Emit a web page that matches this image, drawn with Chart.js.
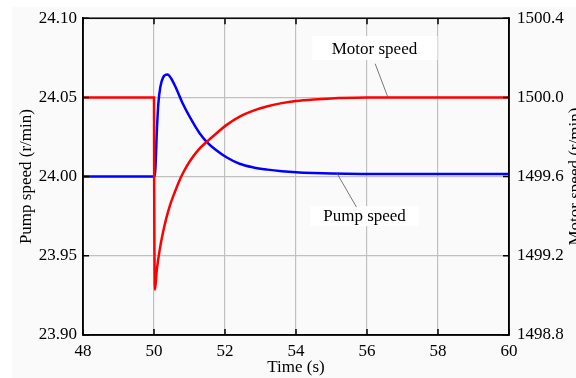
<!DOCTYPE html>
<html>
<head>
<meta charset="utf-8">
<script src="https://cdn.jsdelivr.net/npm/chart.js@4.4.0/dist/chart.umd.min.js"></script>
<style>
  html, body { margin: 0; padding: 0; background: #fff; }
  #wrap { width: 576px; height: 378px; }
</style>
</head>
<body>
<div id="wrap"><canvas id="c" width="576" height="378"></canvas></div>
<script>
// --- data ---
const xTicks = [48, 50, 52, 54, 56, 58, 60];
const pumpTicks = [23.90, 23.95, 24.00, 24.05, 24.10];
const motorTicks = [1498.8, 1499.2, 1499.6, 1500.0, 1500.4];

// motor speed (right axis, r/min)
const motorTime  = [48, 50, 50.005, 50.028, 50.08, 50.16, 50.25, 50.347, 50.45, 50.582, 50.7, 50.817, 51.0, 51.25, 51.493, 51.756, 52.038, 52.413, 52.8, 53.2, 53.6, 54.0, 54.5, 55.0, 56.0, 57.0, 60];
const motorSpeed = [1500.0, 1500.0, 1499.55, 1499.03, 1499.13, 1499.23, 1499.315, 1499.39, 1499.455, 1499.52, 1499.573, 1499.618, 1499.675, 1499.735, 1499.777, 1499.818, 1499.86, 1499.903, 1499.933, 1499.955, 1499.971, 1499.982, 1499.99, 1499.995, 1499.999, 1500.0, 1500.0];

// pump speed (left axis, r/min)
const pumpTime  = [48, 50.02, 50.085, 50.122, 50.178, 50.254, 50.376, 50.488, 50.629, 50.817, 51.1, 51.29, 51.49, 51.756, 52.04, 52.41, 52.8, 53.2, 53.6, 54.0, 54.5, 55.0, 56.0, 58.0, 60];
const pumpSpeed = [24.0, 24.0, 24.031, 24.046, 24.0565, 24.0625, 24.0644, 24.0618, 24.0555, 24.0458, 24.034, 24.0272, 24.0218, 24.0166, 24.0122, 24.0081, 24.0058, 24.0044, 24.0034, 24.0027, 24.0022, 24.0019, 24.0017, 24.0016, 24.0016];

const FONT = '"Liberation Serif", "Times New Roman", serif';

const frame = {
  id: 'frame',
  beforeDraw(chart) {
    const ctx = chart.ctx;
    ctx.save();
    ctx.fillStyle = '#ffffff';
    ctx.fillRect(0, 0, chart.width, chart.height);
    ctx.fillStyle = '#fafafa';
    ctx.fillRect(12, 7, chart.width - 12, chart.height - 7);
    ctx.restore();
  },
  afterDraw(chart) {
    const ctx = chart.ctx;
    const a = chart.chartArea;
    const sx = chart.scales.x, sy = chart.scales.y, sy1 = chart.scales.y1;
    ctx.save();
    // box
    ctx.strokeStyle = '#000';
    ctx.lineWidth = 1.5;
    ctx.strokeRect(a.left, a.top, a.right - a.left, a.bottom - a.top);
    // inner ticks
    ctx.beginPath();
    xTicks.forEach(v => {
      const px = sx.getPixelForValue(v);
      ctx.moveTo(px, a.bottom); ctx.lineTo(px, a.bottom - 6);
      ctx.moveTo(px, a.top); ctx.lineTo(px, a.top + 6);
    });
    pumpTicks.forEach(v => {
      const py = sy.getPixelForValue(v);
      ctx.moveTo(a.left, py); ctx.lineTo(a.left + 6, py);
    });
    motorTicks.forEach(v => {
      const py = sy1.getPixelForValue(v);
      ctx.moveTo(a.right, py); ctx.lineTo(a.right - 6, py);
    });
    ctx.stroke();

    // labels with leader lines
    ctx.font = '17px ' + FONT;
    ctx.textAlign = 'center';
    ctx.textBaseline = 'alphabetic';
    // Motor speed
    let cx = sx.getPixelForValue(56.21), top = sy1.getPixelForValue(1500.31);
    ctx.fillStyle = '#ffffff';
    ctx.fillRect(cx - 62, top, 125, 24);
    ctx.strokeStyle = '#555';
    ctx.lineWidth = 0.8;
    ctx.beginPath();
    ctx.moveTo(sx.getPixelForValue(56.23), sy1.getPixelForValue(1500.17));
    ctx.lineTo(sx.getPixelForValue(56.59), sy1.getPixelForValue(1500.0));
    ctx.stroke();
    ctx.fillStyle = '#000';
    ctx.fillText('Motor speed', cx, top + 18);
    // Pump speed
    cx = sx.getPixelForValue(55.93); top = sy.getPixelForValue(23.9813);
    ctx.fillStyle = '#ffffff';
    ctx.fillRect(cx - 54, top, 108, 20);
    ctx.strokeStyle = '#555';
    ctx.beginPath();
    ctx.moveTo(sx.getPixelForValue(55.15), sy.getPixelForValue(24.0022));
    ctx.lineTo(sx.getPixelForValue(55.70), sy.getPixelForValue(23.9809));
    ctx.stroke();
    ctx.fillStyle = '#000';
    ctx.fillText('Pump speed', cx, top + 15);

    // axis titles
    const midY = (a.top + a.bottom) / 2;
    ctx.textBaseline = 'middle';
    ctx.fillText('Time (s)', (a.left + a.right) / 2, 368);
    ctx.save();
    ctx.translate(27, midY);
    ctx.rotate(-Math.PI / 2);
    ctx.fillText('Pump speed (r/min)', 0, 0);
    ctx.restore();
    ctx.save();
    ctx.translate(567, midY);
    ctx.rotate(-Math.PI / 2);
    ctx.textBaseline = 'top';
    ctx.fillText('Motor speed (r/min)', 0, 0);
    ctx.restore();
    ctx.restore();
  }
};

new Chart(document.getElementById('c'), {
  type: 'line',
  data: {
    datasets: [
      {
        label: 'Motor speed',
        data: motorTime.map((t, i) => ({ x: t, y: motorSpeed[i] })),
        yAxisID: 'y1',
        borderColor: '#ff0000',
        borderWidth: 2.5,
        pointRadius: 0,
        cubicInterpolationMode: 'monotone'
      },
      {
        label: 'Pump speed',
        data: pumpTime.map((t, i) => ({ x: t, y: pumpSpeed[i] })),
        yAxisID: 'y',
        borderColor: '#0000ff',
        borderWidth: 2.5,
        pointRadius: 0,
        cubicInterpolationMode: 'monotone'
      }
    ]
  },
  options: {
    responsive: false,
    animation: false,
    layout: { padding: { top: 17 } },
    plugins: { legend: { display: false }, tooltip: { enabled: false } },
    scales: {
      x: {
        type: 'linear', min: 48, max: 60,
        afterFit: s => { s.height = 43; },
        afterBuildTicks: s => { s.ticks = xTicks.map(v => ({ value: v })); },
        ticks: { font: { family: FONT, size: 17 }, color: '#000', padding: 6, maxRotation: 0 },
        grid: { color: '#c0c0c0', lineWidth: 1.2, drawTicks: false },
        border: { color: '#000', width: 1.5 }
      },
      y: {
        position: 'left', min: 23.9, max: 24.1,
        afterFit: s => { s.width = 83; },
        afterBuildTicks: s => { s.ticks = pumpTicks.map(v => ({ value: v })); },
        ticks: { font: { family: FONT, size: 17 }, color: '#000', padding: 6, callback: v => v.toFixed(2) },
        grid: { color: '#c0c0c0', lineWidth: 1.2, drawTicks: false },
        border: { color: '#000', width: 1.5 }
      },
      y1: {
        position: 'right', min: 1498.8, max: 1500.4,
        afterFit: s => { s.width = 67; },
        afterBuildTicks: s => { s.ticks = motorTicks.map(v => ({ value: v })); },
        ticks: { font: { family: FONT, size: 17 }, color: '#000', padding: 8, callback: v => v.toFixed(1) },
        grid: { display: false, drawTicks: false },
        border: { color: '#000', width: 1.5 }
      }
    }
  },
  plugins: [frame]
});
</script>
</body>
</html>
